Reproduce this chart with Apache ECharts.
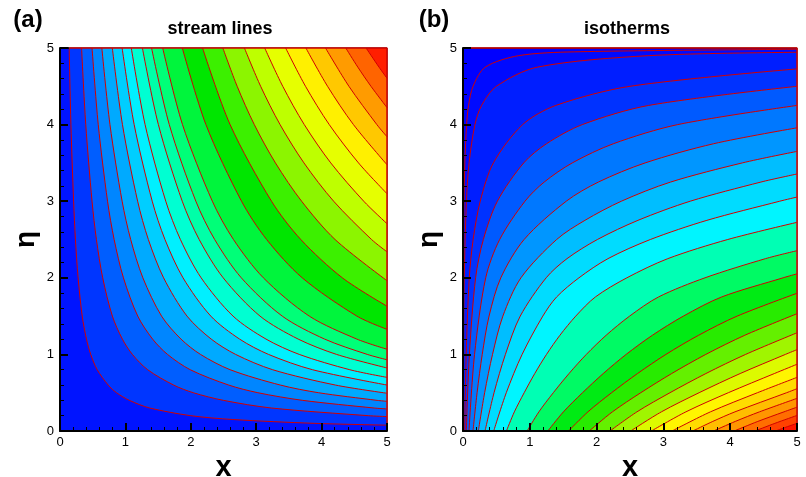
<!DOCTYPE html>
<html>
<head>
<meta charset="utf-8">
<script src="https://cdn.jsdelivr.net/npm/echarts@6/dist/echarts.min.js"></script>
<style>
  html, body { margin: 0; padding: 0; background: #fff; }
  #chart { width: 806px; height: 477px; }
</style>
</head>
<body>
<div id="chart"></div>
<script>
// Axis tick values shared by both panels
const tickValues = [0, 1, 2, 3, 4, 5];

// (a) stream lines: each contour as [x, eta] points, lowest level first
const streamLines = [
  [[0.14,5],[0.167,4],[0.208,3],[0.236,2.5],[0.277,2],[0.34,1.5],[0.405,1.2],[0.47,1],[0.569,0.8],[0.737,0.6],[0.864,0.5],[1.061,0.4],[1.373,0.3],[2.0,0.2],[2.642,0.15],[3.889,0.1],[5,0.076]],
  [[0.33,5],[0.394,4],[0.49,3],[0.557,2.5],[0.653,2],[0.801,1.5],[0.954,1.2],[1.107,1],[1.341,0.8],[1.737,0.6],[2.037,0.5],[2.5,0.4],[3.235,0.3],[4.714,0.2],[5,0.188]],
  [[0.49,5],[0.585,4],[0.727,3],[0.828,2.5],[0.97,2],[1.189,1.5],[1.416,1.2],[1.644,1],[1.992,0.8],[2.579,0.6],[3.025,0.5],[3.712,0.4],[4.804,0.3],[5,0.288]],
  [[0.64,5],[0.764,4],[0.95,3],[1.081,2.5],[1.267,2],[1.553,1.5],[1.85,1.2],[2.148,1],[2.602,0.8],[3.368,0.6],[3.951,0.5],[4.849,0.4],[5,0.387]],
  [[0.8,5],[0.955,4],[1.187,3],[1.351,2.5],[1.584,2],[1.942,1.5],[2.312,1.2],[2.685,1],[3.252,0.8],[4.211,0.6],[5,0.493]],
  [[0.95,5],[1.134,4],[1.41,3],[1.605,2.5],[1.881,2],[2.306,1.5],[2.746,1.2],[3.188,1],[3.862,0.8],[5,0.6]],
  [[1.09,5],[1.301,4],[1.617,3],[1.841,2.5],[2.158,2],[2.646,1.5],[3.15,1.2],[3.658,1],[4.431,0.8],[5,0.7]],
  [[1.26,5],[1.504,4],[1.869,3],[2.128,2.5],[2.495,2],[3.058,1.5],[3.642,1.2],[4.228,1],[5,0.823]],
  [[1.4,5],[1.671,4],[2.077,3],[2.365,2.5],[2.772,2],[3.398,1.5],[4.046,1.2],[4.698,1],[5,0.93]],
  [[1.57,5],[1.873,4],[2.329,3],[2.652,2.5],[3.109,2],[3.811,1.5],[4.538,1.2],[5,1.067]],
  [[1.87,5],[2.231,4],[2.775,3],[3.159,2.5],[3.703,2],[4.539,1.5],[5,1.327]],
  [[2.18,5],[2.601,4],[3.234,3],[3.682,2.5],[4.317,2],[5,1.629]],
  [[2.49,5],[2.709,4.5],[2.971,4],[3.294,3.5],[3.694,3],[4.206,2.5],[5,1.962]],
  [[2.82,5],[3.068,4.5],[3.365,4],[3.73,3.5],[4.184,3],[4.764,2.5],[5,2.339]],
  [[3.13,5],[3.406,4.5],[3.735,4],[4.14,3.5],[4.644,3],[5,2.707]],
  [[3.45,5],[3.754,4.5],[4.117,4],[4.564,3.5],[5,3.098]],
  [[3.76,5],[4.091,4.5],[4.487,4],[5,3.476]],
  [[4.06,5],[4.418,4.5],[4.845,4],[5,3.841]],
  [[4.37,5],[4.554,4.75],[4.755,4.5],[5,4.222]],
  [[4.68,5],[4.878,4.75],[5,4.605]]
];

// (b) isotherms: each contour as [x, eta] points, coldest level first
const isotherms = [
  [[0.0015,0],[0.0029,1],[0.0057,2],[0.0155,3],[0.0273,3.5],[0.0536,4],[0.0833,4.25],[0.15,4.5],[0.333,4.75],[0.833,4.9],[1.667,4.95],[5,4.983]],
  [[0.005,0],[0.0096,1],[0.0189,2],[0.0515,3],[0.0909,3.5],[0.1786,4],[0.2778,4.25],[0.5,4.5],[1.111,4.75],[2.778,4.9],[5,4.944]],
  [[0.025,0],[0.048,1],[0.094,2],[0.152,2.5],[0.258,3],[0.455,3.5],[0.893,4],[1.389,4.25],[2.5,4.5],[5,4.727]],
  [[0.05,0],[0.096,1],[0.189,2],[0.305,2.5],[0.515,3],[0.909,3.5],[1.25,3.75],[1.786,4],[2.778,4.25],[5,4.5]],
  [[0.09,0],[0.173,1],[0.34,2],[0.549,2.5],[0.928,3],[1.216,3.25],[1.636,3.5],[2.25,3.75],[3.214,4],[5,4.25]],
  [[0.15,0],[0.211,0.5],[0.288,1],[0.39,1.5],[0.566,2],[0.915,2.5],[1.546,3],[2.027,3.25],[2.727,3.5],[3.75,3.75],[5,3.958]],
  [[0.23,0],[0.324,0.5],[0.442,1],[0.597,1.5],[0.868,2],[1.402,2.5],[1.825,2.75],[2.371,3],[3.108,3.25],[4.182,3.5],[5,3.65]],
  [[0.33,0],[0.465,0.5],[0.635,1],[0.857,1.5],[1.245,2],[1.557,2.25],[2.012,2.5],[2.619,2.75],[3.402,3],[4.46,3.25],[5,3.355]],
  [[0.46,0],[0.648,0.5],[0.885,1],[1.195,1.5],[1.402,1.75],[1.736,2],[2.17,2.25],[2.805,2.5],[3.651,2.75],[4.742,3],[5,3.054]],
  [[0.65,0],[0.769,0.25],[0.916,0.5],[1.074,0.75],[1.25,1],[1.451,1.25],[1.688,1.5],[1.982,1.75],[2.453,2],[3.066,2.25],[3.963,2.5],[5,2.724]],
  [[0.96,0],[1.136,0.25],[1.352,0.5],[1.587,0.75],[1.846,1],[2.143,1.25],[2.494,1.5],[2.927,1.75],[3.623,2],[4.528,2.25],[5,2.354]],
  [[1.27,0],[1.503,0.25],[1.789,0.5],[2.099,0.75],[2.442,1],[2.835,1.25],[3.299,1.5],[3.872,1.75],[4.792,2],[5,2.052]],
  [[1.58,0],[1.87,0.25],[2.225,0.5],[2.612,0.75],[3.038,1],[3.527,1.25],[4.104,1.5],[5,1.798]],
  [[1.89,0],[2.237,0.25],[2.662,0.5],[3.124,0.75],[3.635,1],[4.219,1.25],[5,1.531]],
  [[2.2,0],[2.604,0.25],[3.099,0.5],[3.636,0.75],[4.231,1],[5,1.282]],
  [[2.51,0],[2.97,0.25],[3.535,0.5],[4.149,0.75],[4.827,1],[5,1.062]],
  [[2.82,0],[3.337,0.25],[3.972,0.5],[4.661,0.75],[5,0.871]],
  [[3.13,0],[3.704,0.25],[4.408,0.5],[5,0.7]],
  [[3.44,0],[3.739,0.125],[4.071,0.25],[4.845,0.5],[5,0.552]],
  [[3.75,0],[4.076,0.125],[4.438,0.25],[5,0.426]],
  [[4.06,0],[4.413,0.125],[4.805,0.25],[5,0.311]],
  [[4.37,0],[4.669,0.1],[5,0.203]],
  [[4.68,0],[4.835,0.05],[5,0.1]]
];

// Flood colours for each band (band 0 lies outside the first contour)
const streamBandColors = [
  '#0014ff','#0036ff','#005eff','#0086ff','#00aaff','#00ceff','#00f0ff',
  '#00ffd2','#00ffa8','#00ff78','#00f53c','#00e600','#3cf000','#8cf500',
  '#beff00','#e6ff00','#fff000','#ffc800','#ff9b00','#ff6400','#ff1e00'
];
const isothermBandColors = [
  '#0000ff','#000aff','#001eff','#0032ff','#005aff','#0078ff','#0096ff',
  '#00beff','#00dcff','#00f5ff','#00ffb4','#00fa64','#00eb14','#28eb00',
  '#64f000','#a0f500','#dcfa00','#fff500','#ffdc00','#ffbe00','#ff9600',
  '#ff6e00','#ff4100','#ff1400'
];

const FONT = '"Liberation Sans", Arial, Helvetica, sans-serif';
const LINE_RED = '#d00000';

function contourSeries(lines, colors, idx, origin) {
  return lines.map((pts, i) => ({
    type: 'line',
    xAxisIndex: idx,
    yAxisIndex: idx,
    data: pts,
    symbol: 'none',
    showSymbol: false,
    smooth: 0.3,
    silent: true,
    animation: false,
    z: 2,
    lineStyle: { color: LINE_RED, width: 1 },
    areaStyle: { color: colors[i + 1], opacity: 1, origin: origin }
  }));
}

function edgeSeries(pts, color, idx) {
  return {
    type: 'line', xAxisIndex: idx, yAxisIndex: idx, data: pts,
    symbol: 'none', silent: true, animation: false, clip: false, z: 5,
    lineStyle: { color: color, width: 1.5 }
  };
}

function xAxisCfg(idx) {
  return {
    gridIndex: idx, type: 'value', min: 0, max: 5, interval: 1, z: 10,
    axisLine: { onZero: false, lineStyle: { color: '#000', width: 2 } },
    axisTick: { inside: true, length: 8, lineStyle: { color: '#000', width: 2 } },
    minorTick: { show: true, splitNumber: 5, length: 4, lineStyle: { color: '#000', width: 1 } },
    splitLine: { show: false },
    minorSplitLine: { show: false },
    axisLabel: {
      color: '#000', fontSize: 13, fontFamily: FONT, margin: 5,
      formatter: v => tickValues.includes(v) ? String(v) : ''
    },
    name: 'x', nameLocation: 'middle', nameGap: 22,
    nameTextStyle: { color: '#000', fontSize: 29, fontWeight: 'bold', fontFamily: FONT }
  };
}

function yAxisCfg(idx) {
  return {
    gridIndex: idx, type: 'value', min: 0, max: 5, interval: 1, z: 10,
    axisLine: { onZero: false, lineStyle: { color: '#000', width: 2 } },
    axisTick: { inside: true, length: 8, lineStyle: { color: '#000', width: 2 } },
    minorTick: { show: true, splitNumber: 5, length: 4, lineStyle: { color: '#000', width: 1 } },
    splitLine: { show: false },
    minorSplitLine: { show: false },
    axisLabel: {
      color: '#000', fontSize: 13, fontFamily: FONT, margin: 6,
      formatter: v => tickValues.includes(v) ? String(v) : ''
    },
    name: 'η', nameLocation: 'middle', nameGap: 20, nameRotate: 90,
    nameTextStyle: { color: '#000', fontSize: 28, fontWeight: 'bold', fontFamily: FONT }
  };
}

const chart = echarts.init(document.getElementById('chart'), null, { renderer: 'canvas' });

const series = []
  .concat(contourSeries(streamLines, streamBandColors, 0, 'end'))
  .concat(contourSeries(isotherms, isothermBandColors, 1, 'start'))
  .concat([
    edgeSeries([[0, 5], [0.14, 5]], '#000', 0),
    edgeSeries([[0.14, 5], [5, 5], [5, 0.076]], LINE_RED, 0),
    edgeSeries([[0, 5], [5, 5], [5, 0]], LINE_RED, 1)
  ]);

chart.setOption({
  animation: false,
  backgroundColor: '#fff',
  grid: [
    { left: 60, top: 48, width: 327, height: 383, show: true, containLabel: false,
      outerBoundsMode: 'none',
      backgroundColor: streamBandColors[0], borderColor: '#000', borderWidth: 1 },
    { left: 463, top: 48, width: 334, height: 383, show: true, containLabel: false,
      outerBoundsMode: 'none',
      backgroundColor: isothermBandColors[0], borderColor: '#000', borderWidth: 1 }
  ],
  xAxis: [xAxisCfg(0), xAxisCfg(1)],
  yAxis: [yAxisCfg(0), yAxisCfg(1)],
  graphic: [
    { type: 'text', x: 28, y: 20, style: { text: '(a)', fill: '#000',
      font: 'bold 24px ' + FONT, align: 'center', verticalAlign: 'middle' } },
    { type: 'text', x: 434, y: 20, style: { text: '(b)', fill: '#000',
      font: 'bold 24px ' + FONT, align: 'center', verticalAlign: 'middle' } },
    { type: 'text', x: 220, y: 29, style: { text: 'stream lines', fill: '#000',
      font: 'bold 18px ' + FONT, align: 'center', verticalAlign: 'middle' } },
    { type: 'text', x: 627, y: 29, style: { text: 'isotherms', fill: '#000',
      font: 'bold 18px ' + FONT, align: 'center', verticalAlign: 'middle' } }
  ],
  series: series
});
</script>
</body>
</html>
